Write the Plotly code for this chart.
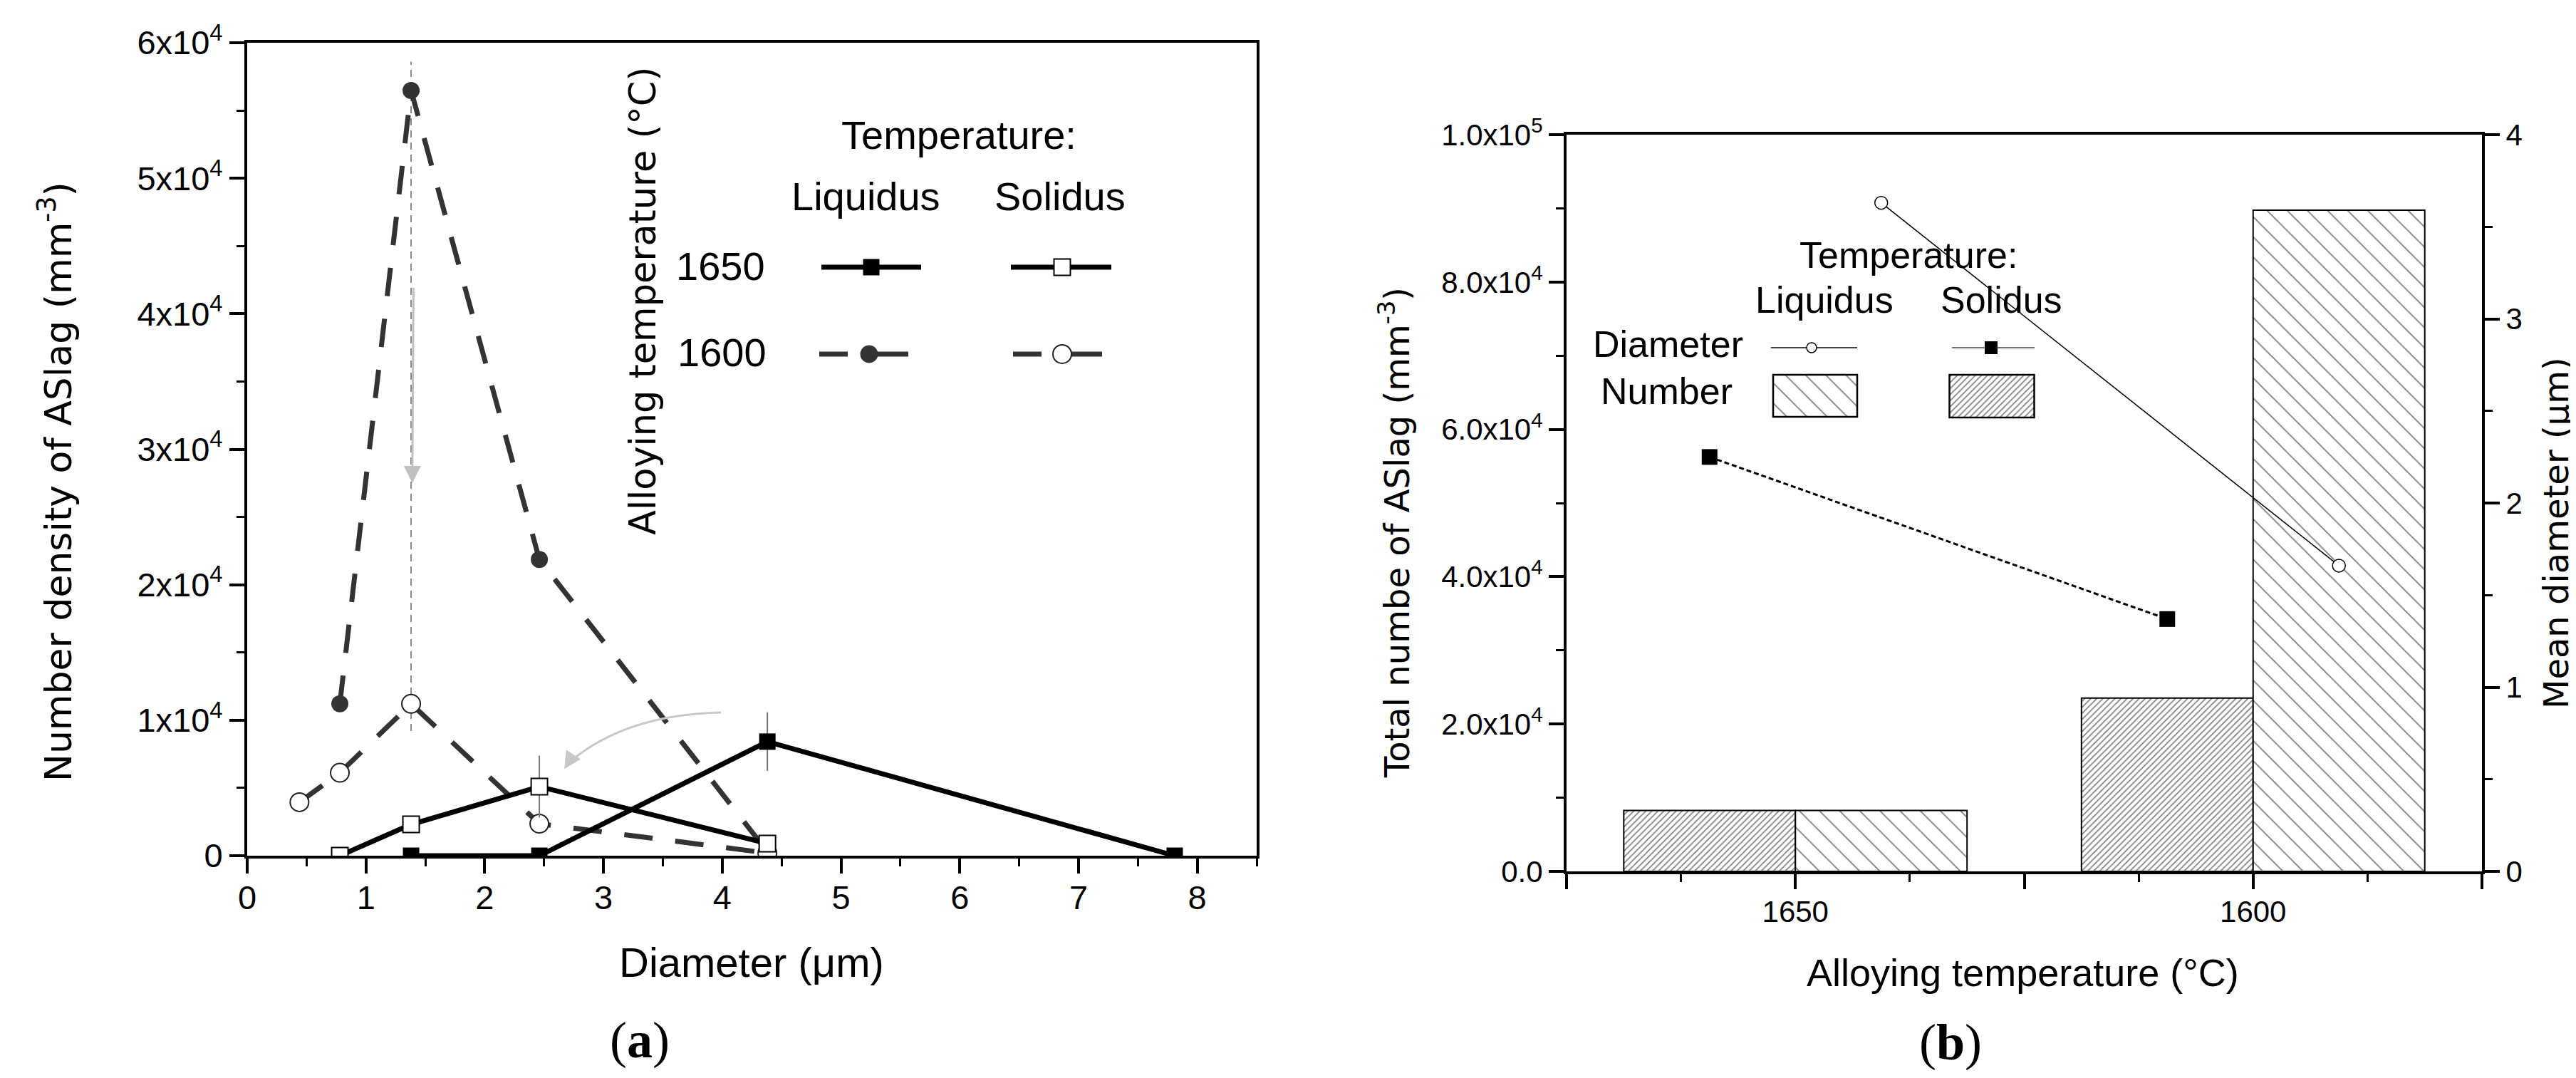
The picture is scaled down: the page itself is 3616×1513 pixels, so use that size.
import plotly.graph_objects as go

W, H = 3616, 1513

SANS = "Liberation Sans, Arial, sans-serif"
WIDE = "DejaVu Sans, Verdana, sans-serif"
SERIF = "Liberation Serif, Times New Roman, serif"

# ---- panel (a): number density of ASlag vs diameter ----
liq1650_d = [1.38, 2.46, 4.38, 7.81]
liq1650_n = [0, 0, 8420, 0]
liq1650_err = [0, 0, 2160, 0]

sol1650_d = [0.78, 1.38, 2.46, 4.38]
sol1650_n = [0, 2310, 5100, 900]
sol1650_err = [0, 0, 2280, 0]

liq1600_d = [0.78, 1.38, 2.46, 4.38]
liq1600_n = [11210, 56480, 21860, 300]

sol1600_d = [0.44, 0.78, 1.38, 2.46, 4.38]
sol1600_n = [3950, 6120, 11210, 2360, 200]

a_xticks = [0, 1, 2, 3, 4, 5, 6, 7, 8]
a_yticks = [0, 10000, 20000, 30000, 40000, 50000, 60000]
a_yticktext = ["0", "1x10<sup>4</sup>", "2x10<sup>4</sup>", "3x10<sup>4</sup>",
               "4x10<sup>4</sup>", "5x10<sup>4</sup>", "6x10<sup>4</sup>"]

# ---- panel (b): totals and mean diameter per alloying temperature ----
temps = ["1650", "1600"]
num_liq = [8270, 89750]
num_sol = [8270, 23520]
dia_liq = [3.63, 1.66]
dia_sol = [2.25, 1.37]

b_yticks = [0, 20000, 40000, 60000, 80000, 100000]
b_yticktext = ["0.0", "2.0x10<sup>4</sup>", "4.0x10<sup>4</sup>", "6.0x10<sup>4</sup>",
               "8.0x10<sup>4</sup>", "1.0x10<sup>5</sup>"]
b_y2ticks = [0, 1, 2, 3, 4]


def px(x):
    return x / W


def py(y):
    return 1 - y / H


centers = [1 + 2 * i for i in range(len(temps))]
sol_x = [c - 0.375 for c in centers]
liq_x = [c + 0.375 for c in centers]
b_xticks = [0, 1, 2, 3, 4]
b_xticktext = ["", temps[0], "", temps[1], ""]

SOL_HATCH = dict(shape="/", size=6, solidity=0.28, fgcolor="black", bgcolor="white")
LIQ_HATCH = dict(shape="\\", size=20, solidity=0.09, fgcolor="black", bgcolor="white")

fig = go.Figure()

# panel (a) data
fig.add_trace(go.Scatter(
    x=liq1600_d, y=liq1600_n, xaxis="x", yaxis="y", mode="lines+markers",
    line=dict(color="#333333", width=7, dash="40px,32px"),
    marker=dict(symbol="circle", size=24, color="#333333")))
fig.add_trace(go.Scatter(
    x=sol1600_d, y=sol1600_n, xaxis="x", yaxis="y", mode="lines+markers",
    line=dict(color="#333333", width=7, dash="40px,32px"),
    marker=dict(symbol="circle", size=26, color="white", line=dict(color="#222222", width=2))))
fig.add_trace(go.Scatter(
    x=sol1650_d, y=sol1650_n, xaxis="x", yaxis="y", mode="lines+markers",
    line=dict(color="black", width=7),
    error_y=dict(type="data", array=sol1650_err, color="#777777", thickness=2, width=0),
    marker=dict(symbol="square", size=23, color="white", line=dict(color="black", width=2))))
fig.add_trace(go.Scatter(
    x=liq1650_d, y=liq1650_n, xaxis="x", yaxis="y", mode="lines+markers",
    line=dict(color="black", width=7),
    error_y=dict(type="data", array=liq1650_err, color="#777777", thickness=2, width=0),
    marker=dict(symbol="square", size=23, color="black")))

# panel (b) bars
fig.add_trace(go.Bar(
    x=sol_x, y=num_sol, width=0.75, xaxis="x2", yaxis="y2",
    marker=dict(color="white", line=dict(color="black", width=2), pattern=SOL_HATCH)))
fig.add_trace(go.Bar(
    x=liq_x, y=num_liq, width=0.75, xaxis="x2", yaxis="y2",
    marker=dict(color="white", line=dict(color="black", width=2), pattern=LIQ_HATCH)))

# panel (b) mean diameter lines
fig.add_trace(go.Scatter(
    x=liq_x, y=dia_liq, xaxis="x2", yaxis="y3", mode="lines+markers",
    line=dict(color="black", width=1.5),
    marker=dict(symbol="circle", size=18, color="white", line=dict(color="black", width=1.5))))
fig.add_trace(go.Scatter(
    x=sol_x, y=dia_sol, xaxis="x2", yaxis="y3", mode="lines+markers",
    line=dict(color="black", width=3, dash="7px,4px"),
    marker=dict(symbol="square", size=22, color="black")))

# legend samples drawn on a full-figure pixel axis
def sample(xs, y, dash_color, width, marker):
    fig.add_trace(go.Scatter(x=xs, y=[None if v is None else y for v in xs],
                             xaxis="x4", yaxis="y4", mode="lines",
                             line=dict(color=dash_color, width=width)))
    fig.add_trace(go.Scatter(x=[marker.pop("at")], y=[y], xaxis="x4", yaxis="y4",
                             mode="markers", marker=marker))


sample([1145, 1285], 367, "black", 7, dict(at=1215, symbol="square", size=23, color="black"))
sample([1411, 1552], 367, "black", 7,
       dict(at=1483, symbol="square", size=23, color="white", line=dict(color="black", width=2)))
sample([1142, 1182, None, 1200, 1267], 489, "#333333", 7,
       dict(at=1212, symbol="circle", size=25, color="#333333"))
sample([1414, 1454, None, 1470, 1539], 489, "#333333", 7,
       dict(at=1483, symbol="circle", size=26, color="white", line=dict(color="#222222", width=2)))
sample([2478, 2599], 480, "black", 1.5,
       dict(at=2535, symbol="circle", size=14, color="white", line=dict(color="black", width=1.5)))
sample([2732, 2848], 480, "#777777", 2, dict(at=2787, symbol="square", size=18, color="black"))

fig.add_trace(go.Bar(
    x=[2540], y=[59], base=[518], width=[118], xaxis="x4", yaxis="y4",
    marker=dict(color="white", line=dict(color="black", width=2.5), pattern=LIQ_HATCH)))
fig.add_trace(go.Bar(
    x=[2788], y=[60], base=[518], width=[119], xaxis="x4", yaxis="y4",
    marker=dict(color="white", line=dict(color="black", width=2.5), pattern=SOL_HATCH)))

axis_style = dict(showline=True, linecolor="black", linewidth=4, mirror=True,
                  ticks="outside", ticklen=21, tickwidth=4, tickcolor="black",
                  showgrid=False, zeroline=False, automargin=False)


def minor(step, length=11):
    return dict(dtick=step, tick0=0, ticks="outside", ticklen=length, tickwidth=3,
                tickcolor="black", showgrid=False)


fig.update_layout(
    width=W, height=H, margin=dict(l=0, r=0, t=0, b=0, autoexpand=False),
    paper_bgcolor="white", plot_bgcolor="rgba(0,0,0,0)",
    showlegend=False, barmode="overlay",
    font=dict(family=SANS, color="black"),
    xaxis=dict(domain=[339 / W, 1756 / W], range=[0, 8.5], anchor="y",
               tickmode="array", tickvals=a_xticks, minor=minor(0.5), ticklabelstandoff=-6,
               tickfont=dict(family=SANS, size=47), **axis_style),
    yaxis=dict(domain=[py(1193), py(52)], range=[0, 60000], anchor="x",
               tickmode="array", tickvals=a_yticks, ticktext=a_yticktext, minor=minor(5000),
               tickfont=dict(family=SANS, size=47), **axis_style),
    xaxis2=dict(domain=[2191 / W, 3476 / W], range=[0, 4], anchor="y2",
                tickmode="array", tickvals=b_xticks, ticktext=b_xticktext, minor=minor(0.5),
                ticklabelstandoff=-4, tickfont=dict(family=SANS, size=42), **axis_style),
    yaxis2=dict(domain=[py(1215), py(181)], range=[0, 100000], anchor="x2",
                tickmode="array", tickvals=b_yticks, ticktext=b_yticktext, minor=minor(10000),
                tickfont=dict(family=SANS, size=42), **axis_style),
    yaxis3=dict(overlaying="y2", side="right", anchor="x2", range=[0, 4],
                tickmode="array", tickvals=b_y2ticks, minor=minor(0.5),
                tickfont=dict(family=SANS, size=42), **axis_style),
    xaxis4=dict(domain=[0, 1], range=[0, W], anchor="y4", visible=False, fixedrange=True),
    yaxis4=dict(domain=[0, 1], range=[H, 0], anchor="x4", visible=False, fixedrange=True),
)

# reference guides in panel (a)
fig.add_shape(type="line", xref="x", yref="y", x0=liq1600_d[1], x1=liq1600_d[1],
              y0=9200, y1=58600, line=dict(color="#888888", width=2, dash="10px,7px"), layer="below")
fig.add_shape(type="path", xref="x", yref="y", path="M 3.99,10570 Q 3.17,10410 2.70,6800",
              line=dict(color="#c8c8c8", width=3))
fig.add_annotation(x=2.67, y=6400, ax=2.75, ay=7500, xref="x", yref="y", axref="x", ayref="y",
                   text="", showarrow=True, arrowhead=2, arrowsize=1.6, arrowwidth=3,
                   arrowcolor="#c8c8c8")
fig.add_annotation(x=1.39, y=27500, ax=1.40, ay=42000, xref="x", yref="y", axref="x", ayref="y",
                   text="", showarrow=True, arrowhead=2, arrowsize=1.6, arrowwidth=3,
                   arrowcolor="#c0c0c0")

texts = [
    # panel (a)
    ("Temperature:", 1338, 181, 56, SANS, 0),
    ("Liquidus", 1207, 267, 56, SANS, 0),
    ("Solidus", 1480, 267, 56, SANS, 0),
    ("1650", 1003, 365, 56, SANS, 0),
    ("1600", 1005, 486, 56, SANS, 0),
    ("Alloying temperature (°C)", 894, 415, 51, WIDE, -90),
    ("Number density of ASlag (mm<sup>-3</sup>)", 70, 668, 52, WIDE, -90),
    ("Diameter (μm)", 1047, 1342, 58, SANS, 0),
    ("(<b>a</b>)", 890, 1452, 72, SERIF, 0),
    # panel (b)
    ("Temperature:", 2671, 350, 52, SANS, 0),
    ("Liquidus", 2553, 413, 52, SANS, 0),
    ("Solidus", 2801, 413, 52, SANS, 0),
    ("Diameter", 2333, 475, 52, SANS, 0),
    ("Number", 2331, 541, 52, SANS, 0),
    ("Alloying temperature (°C)", 2831, 1357, 54, SANS, 0),
    ("Total numbe of ASlag (mm<sup>-3</sup>)", 1950, 740, 48, WIDE, -90),
    ("Mean diameter (μm)", 3580, 740, 48, WIDE, -90),
    ("(<b>b</b>)", 2730, 1455, 72, SERIF, 0),
]
for text, x, y, size, family, angle in texts:
    fig.add_annotation(x=px(x), y=py(y), xref="paper", yref="paper", text=text,
                       showarrow=False, xanchor="center", yanchor="middle", textangle=angle,
                       font=dict(family=family, size=size, color="black"))

fig.write_html("out.html")
